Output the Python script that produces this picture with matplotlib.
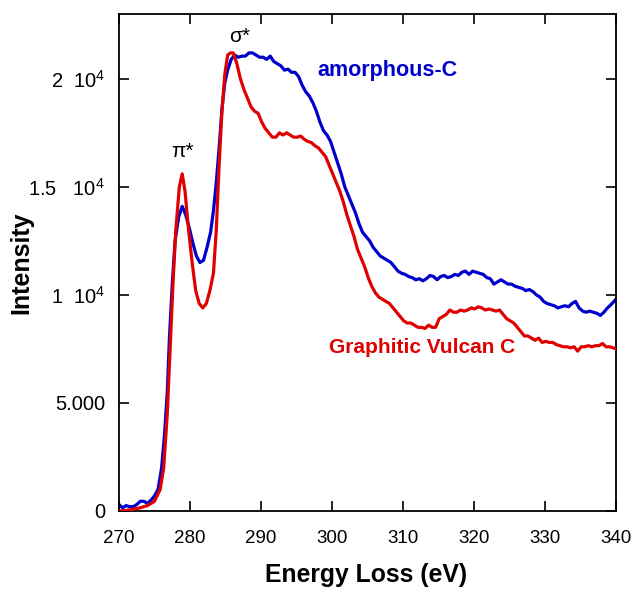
import numpy as np
import matplotlib
matplotlib.use('Agg')
import matplotlib.pyplot as plt

plt.rcParams['font.family'] = ['Liberation Sans', 'DejaVu Sans']
plt.rcParams['mathtext.fontset'] = 'custom'
plt.rcParams['mathtext.rm'] = 'Liberation Sans'
plt.rcParams['mathtext.it'] = 'Liberation Sans:italic'
plt.rcParams['mathtext.bf'] = 'Liberation Sans:bold'

# Graphitic Vulcan C (red)
red_x = [270.0, 271, 272, 273, 274, 275, 275.8, 276.3, 276.8, 277.2, 277.6, 278.0, 278.5, 278.9,
         279.3, 279.8, 280.3, 280.8, 281.3, 281.8, 282.3, 282.8, 283.3, 283.7, 284.1, 284.5,
         284.9, 285.3, 285.7, 286.1, 286.6, 287.1, 287.6, 288.1, 288.6, 289.1, 289.6, 290.1,
         290.6, 291.1, 291.6, 292.1, 292.6, 293.1, 293.6, 294.1, 294.6, 295.1, 295.6, 296.1,
         296.6, 297.1, 297.6, 298.1, 298.6, 299.1, 299.6, 300.1, 300.6, 301.1, 301.6, 302.1,
         302.6, 303.1, 303.6, 304.1, 304.6, 305.1, 305.6, 306.1, 306.6, 307.1, 307.6, 308.1,
         308.6, 309.1, 309.6, 310.1, 310.6, 311.1, 311.6, 312.1, 312.6, 313.1, 313.6, 314.1,
         314.6, 315.1, 315.6, 316.1, 316.6, 317.1, 317.6, 318.1, 318.6, 319.1, 319.6, 320.1,
         320.6, 321.1, 321.6, 322.1, 322.6, 323.1, 323.6, 324.1, 324.6, 325.1, 325.6, 326.1,
         326.6, 327.1, 327.6, 328.1, 328.6, 329.1, 329.6, 330.1, 330.6, 331.1, 331.6, 332.1,
         332.6, 333.1, 333.6, 334.1, 334.6, 335.1, 335.6, 336.1, 336.6, 337.1, 337.6, 338.1,
         338.6, 339.1, 339.6, 340.0]
red_y = [0, 30, 80, 150, 250, 450, 1000, 2000, 4500, 7500, 10500, 13000, 15000, 15600,
         14800, 13000, 11500, 10200, 9600, 9400, 9600, 10200, 11000, 13000, 16000, 18500,
         20200, 21100, 21200, 21200, 20700, 20000, 19500, 19100, 18700, 18500, 18400, 18000,
         17700, 17500, 17300, 17300, 17500, 17400, 17500, 17400, 17300, 17300, 17350, 17200,
         17100, 17050, 16900, 16800, 16600, 16400, 16000, 15600, 15200, 14800, 14300, 13700,
         13200, 12700, 12100, 11700, 11300, 10800, 10400, 10100, 9900, 9800, 9700, 9600,
         9400, 9200, 9000, 8800, 8700, 8700, 8600, 8500, 8500, 8450, 8600, 8500,
         8500, 8900, 9000, 9100, 9300, 9200, 9200, 9300, 9250, 9300, 9400, 9350,
         9450, 9400, 9300, 9350, 9300, 9250, 9300, 9100, 8900, 8800, 8700, 8500,
         8300, 8100, 8100, 8000, 7900, 8000, 7800, 7850, 7800, 7800, 7700, 7650,
         7600, 7600, 7550, 7600, 7400, 7600, 7600, 7650, 7600, 7650, 7650, 7750,
         7600, 7600, 7550, 7500]

# amorphous-C (blue)
blue_x = [270.0, 270.5, 271, 271.5, 272, 272.5, 273, 273.5, 274, 274.5, 275, 275.5, 276, 276.4,
          276.8, 277.1, 277.5, 277.9, 278.4, 278.9, 279.4, 279.9, 280.4, 280.9, 281.4, 281.9,
          282.4, 282.9, 283.3, 283.7, 284.1, 284.5, 284.9, 285.3, 285.8, 286.3, 286.8, 287.3,
          287.8, 288.3, 288.8, 289.3, 289.8, 290.3, 290.8, 291.3, 291.8, 292.3, 292.8, 293.3,
          293.8, 294.3, 294.8, 295.3, 295.8, 296.3, 296.8, 297.3, 297.8, 298.3, 298.8, 299.3,
          299.8, 300.3, 300.8, 301.3, 301.8, 302.3, 302.8, 303.3, 303.8, 304.3, 304.8, 305.3,
          305.8, 306.3, 306.8, 307.3, 307.8, 308.3, 308.8, 309.3, 309.8, 310.3, 310.8, 311.3,
          311.8, 312.3, 312.8, 313.3, 313.8, 314.3, 314.8, 315.3, 315.8, 316.3, 316.8, 317.3,
          317.8, 318.3, 318.8, 319.3, 319.8, 320.3, 320.8, 321.3, 321.8, 322.3, 322.8, 323.3,
          323.8, 324.3, 324.8, 325.3, 325.8, 326.3, 326.8, 327.3, 327.8, 328.3, 328.8, 329.3,
          329.8, 330.3, 330.8, 331.3, 331.8, 332.3, 332.8, 333.3, 333.8, 334.3, 334.8, 335.3,
          335.8, 336.3, 336.8, 337.3, 337.8, 338.3, 338.8, 339.3, 340.0]
blue_y = [300, 150, 250, 200, 200, 300, 450, 450, 350, 500, 700, 1000, 2000, 3500,
          5500, 8000, 10500, 12500, 13600, 14100, 13700, 13100, 12400, 11800, 11500, 11600,
          12200, 12900, 13900, 15200, 16800, 18600, 19800, 20400, 20900, 21100, 21000, 21050,
          21050, 21200, 21200, 21100, 21000, 21000, 20900, 21050, 20800, 20700, 20600, 20400,
          20450, 20300, 20300, 20100, 19700, 19400, 19200, 18900, 18500, 18000, 17600, 17400,
          17100, 16600, 16100, 15600, 15000, 14600, 14200, 13800, 13300, 12900, 12700, 12500,
          12200, 12000, 11800, 11700, 11600, 11500, 11300, 11100, 11000, 10950, 10850, 10800,
          10700, 10750, 10650, 10750, 10900, 10850, 10700, 10850, 10900, 10800, 10850, 10950,
          10900, 11050, 11100, 10950, 11100, 11050, 11000, 10950, 10800, 10750, 10500, 10600,
          10700, 10600, 10500, 10500, 10400, 10350, 10300, 10200, 10250, 10150, 10000, 9900,
          9700, 9600, 9550, 9500, 9400, 9450, 9500, 9450, 9600, 9700, 9400, 9250,
          9200, 9250, 9200, 9150, 9050, 9200, 9400, 9550, 9800]

x_ticks = [270, 280, 290, 300, 310, 320, 330, 340]
y_ticks = [0, 5000, 10000, 15000, 20000]
y_ticklabels = ['0', '5.000', r'1  $10^{4}$', r'1.5   $10^{4}$', r'2  $10^{4}$']

fig = plt.figure(figsize=(6.31, 5.89), dpi=100)
ax = fig.add_axes([119 / 631, 1 - 511 / 589, 497 / 631, 497 / 589])

ax.plot(red_x, red_y, color='#E00000', lw=2.3, zorder=3)
ax.plot(blue_x, blue_y, color='#0000CC', lw=2.3, zorder=2)

ax.set_xlim(270, 340)
ax.set_ylim(0, 23000)
ax.set_xticks(x_ticks)
ax.set_yticks(y_ticks)
ax.set_yticklabels(y_ticklabels)
ax.tick_params(direction='in', length=7, width=1.2, top=True, right=True)
ax.tick_params(axis='y', pad=10, labelsize=14.5)
ax.tick_params(axis='x', pad=14, labelsize=13.5)
for s in ax.spines.values():
    s.set_linewidth(1.3)

ax.set_xlabel('Energy Loss (eV)', fontsize=17.8, fontweight='bold')
ax.set_ylabel('Intensity', fontsize=18, fontweight='bold')
ax.xaxis.set_label_coords(0.497, -0.105)
ax.yaxis.set_label_coords(-0.173, 0.5)

ax.text(278.9, 16200, r'π*', fontsize=15, ha='center', va='bottom')
ax.text(287.0, 21500, r'σ*', fontsize=15, ha='center', va='bottom')
ax.text(297.9, 20400, 'amorphous-C', color='#0000CC', fontsize=15.5,
        fontweight='bold', va='center')
ax.text(299.6, 7550, 'Graphitic Vulcan C', color='#E00000', fontsize=15,
        fontweight='bold', va='center')

fig.savefig('out.png', dpi=100)
